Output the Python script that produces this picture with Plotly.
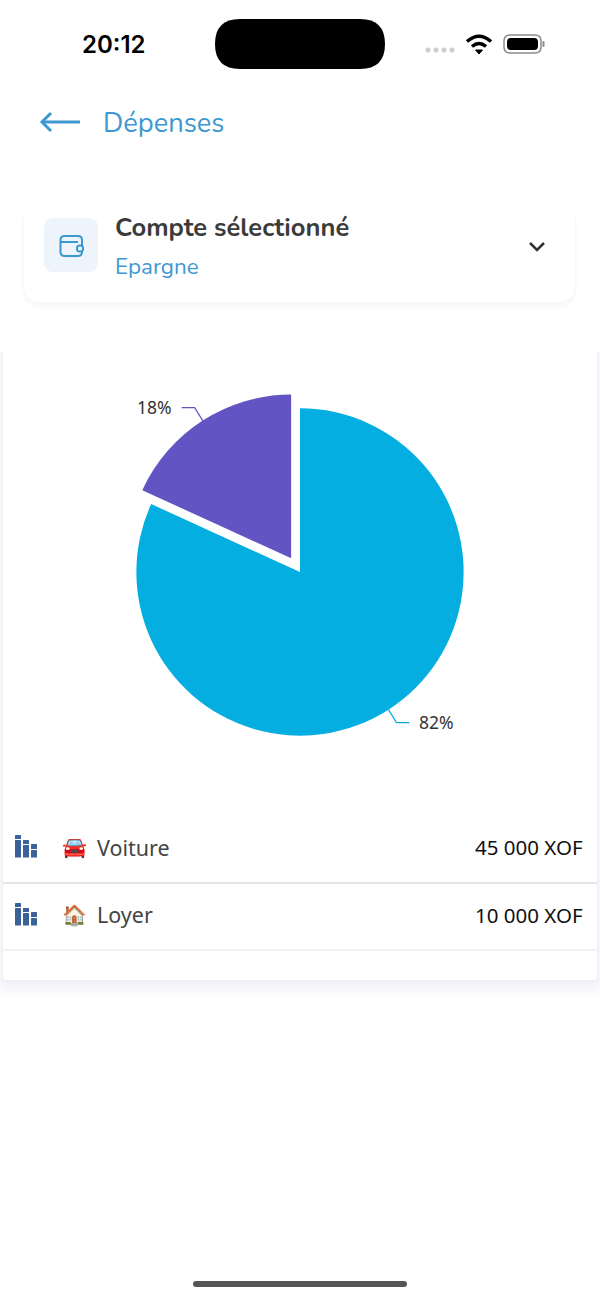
import math
import plotly.graph_objects as go

W, H = 600, 1299

# donnees
categories = ['Voiture', 'Loyer']
emojis = ['🚘', '🏠']
amounts = [45000, 10000]
colors = ['#05aee1', '#6354c4']
pull = [0, 0.1]

BLUE = '#3d98d1'
NAVY = '#3a6299'
FONT = 'Nunito, Lato, Noto Sans'

# pie geometry in screen pixels
CX, CY, R_OUT = 300, 572, 180
R = R_OUT / (1 + max(pull))


def px(x):
    return x / W


def py(y):
    return 1 - y / H


def rrect(x0, y0, x1, y1, r):
    X0, X1, Y0, Y1 = px(x0), px(x1), py(y0), py(y1)
    rx, ry = r / W, r / H
    return (f'M{X0 + rx},{Y0} L{X1 - rx},{Y0} Q{X1},{Y0} {X1},{Y0 - ry} '
            f'L{X1},{Y1 + ry} Q{X1},{Y1} {X1 - rx},{Y1} L{X0 + rx},{Y1} '
            f'Q{X0},{Y1} {X0},{Y1 + ry} L{X0},{Y0 - ry} Q{X0},{Y0} {X0 + rx},{Y0} Z')


def poly(points, close=False):
    d = 'M' + ' L'.join(f'{px(x)},{py(y)}' for x, y in points)
    return d + (' Z' if close else '')


def curve(x0, y0, xc, yc, x1, y1):
    return f'M{px(x0)},{py(y0)} Q{px(xc)},{py(yc)} {px(x1)},{py(y1)}'


shapes = []
annotations = []


def add_path(path, fill=None, line=None, width=0, layer='above', opacity=1):
    shapes.append(dict(type='path', path=path, xref='paper', yref='paper', layer=layer,
                       fillcolor=fill or 'rgba(0,0,0,0)', opacity=opacity,
                       line=dict(color=line or 'rgba(0,0,0,0)', width=width)))


def add_text(x, y, text, size, color, anchor='left', family='Noto Sans', weight=None):
    # annotations carry about 2px of padding
    shift = {'left': -2, 'right': 2, 'center': 0}[anchor]
    annotations.append(dict(x=px(x + shift), y=py(y), xref='paper', yref='paper', text=text, showarrow=False,
                            xanchor=anchor, yanchor='middle',
                            font=dict(size=size, color=color, family=family, weight=weight)))


def add_shadow(x0, y0, x1, y1, r, spread, alpha):
    # soft shadow that falls down and to the sides, nothing above the card
    for k in range(spread, 0, -2):
        add_path(rrect(x0 - k / 3, y0 + 4, x1 + k / 3, y1 + k, r + k / 3),
                 fill=f'rgba(60,60,70,{alpha})', layer='below')


# status bar
add_text(114, 44, '20:12', 24, '#000000', 'center', 'Inter', 600)
add_path(rrect(215, 19, 385, 69, 25), fill='#000000')
for dot_x in (428, 436, 444, 452):
    add_path(rrect(dot_x - 2.5, 47.5, dot_x + 2.5, 52.5, 2.5), fill='#cfcfcf')
add_path(curve(467, 41.5, 479, 31, 491, 41.5), line='#000000', width=3.5)
add_path(curve(472, 46.5, 479, 40.5, 486, 46.5), line='#000000', width=3.5)
add_path(poly([(475.5, 50), (482.5, 50), (479, 54)], True), fill='#000000', line='#000000', width=1)
add_path(rrect(504, 35, 541, 53, 6), line='#8a8a8a', width=1.5)
add_path(rrect(507, 38, 538, 50, 4), fill='#000000')
add_path(rrect(542.5, 41, 544.5, 47, 1), fill='#8a8a8a')

# header
add_path(poly([(42, 122), (80, 122)]), line=BLUE, width=3)
add_path(poly([(51, 113), (42, 122), (51, 131)]), line=BLUE, width=3)
add_text(103, 123, 'Dépenses', 27.3, BLUE, family=FONT)

# account card
add_shadow(24, 200, 575, 302, 18, 8, 0.006)
add_path(rrect(24, 200, 575, 302, 18), fill='#ffffff', layer='below')
add_path(rrect(44, 218, 98, 272, 10), fill='#edf4fb', layer='below')
add_path(rrect(60.5, 236, 82, 256, 4), line=BLUE, width=2)
add_path(poly([(61, 242), (78, 242)]), line=BLUE, width=2)
add_path(rrect(77, 245.5, 83, 251.5, 2.5), fill='#edf4fb', line=BLUE, width=2)
add_text(115, 227, 'Compte sélectionné', 25.5, '#3b3b3b', family=FONT, weight=700)
add_text(115, 266, 'Epargne', 22.4, BLUE, family=FONT)
add_path(poly([(530, 243), (537, 250), (544, 243)]), line='#303030', width=2.5)

# chart panel
add_shadow(3, 345, 597, 980, 4, 16, 0.006)
add_path(rrect(3, 345, 597, 980, 4), fill='#ffffff', layer='below')

# leader lines and percent labels, placed from the slice values
total = sum(amounts)
start = 0
for value, color, p in zip(amounts, colors, pull):
    mid = (start + value / 2) / total * 2 * math.pi
    start += value
    dx, dy = math.sin(mid), -math.cos(mid)
    ox, oy = CX + p * R * dx, CY + p * R * dy
    x0, y0 = ox + R * dx, oy + R * dy
    x1, y1 = x0 + 8 * (1 if dx > 0 else -1), y0 + 13 * (1 if dy > 0 else -1)
    x2 = x1 + 13 * (1 if dx > 0 else -1)
    add_path(poly([(x0, y0), (x1, y1), (x2, y1)]), line=color, width=1.2)
    add_text(x2 + 10 * (1 if dx > 0 else -1), y1 - 1, f'{round(value / total * 100)}%', 17.5, '#333333',
             'left' if dx > 0 else 'right')

# list rows
row_y = [847, 915]
sep_y = [883, 950]
sep_w = [2, 1]
for cat, emo, amt, y, sy, sw in zip(categories, emojis, amounts, row_y, sep_y, sep_w):
    bottom = y + 10.5
    for bx, top, gap in ((15, y - 12, y - 7), (23, y - 7, y - 2), (31, y - 3, y + 3)):
        add_path(rrect(bx, top, bx + 6, gap - 1, 0.5), fill=NAVY)
        add_path(rrect(bx, gap, bx + 6, bottom, 0.5), fill=NAVY)
    add_text(74, y, emo, 20, '#d22b2b', 'center', 'Noto Color Emoji, Noto Sans')
    add_text(97, y, cat, 21.5, '#444444')
    add_text(583, y, f'{amt:,}'.replace(',', ' ') + ' XOF', 20.5, '#111111', 'right')
    add_path(poly([(3, sy), (597, sy)]), line='#e6e6e6', width=sw, layer='below')

# home indicator
add_path(rrect(193, 1281, 407, 1287, 3), fill='#555555')

fig = go.Figure()
fig.add_trace(go.Pie(values=amounts, labels=categories, marker=dict(colors=colors, line=dict(width=0)),
                     pull=pull, sort=False, direction='clockwise', rotation=0, textinfo='none',
                     hoverinfo='label+percent', showlegend=False,
                     domain=dict(x=[px(CX - R_OUT), px(CX + R_OUT)], y=[py(CY + R_OUT), py(CY - R_OUT)])))

fig.update_layout(width=W, height=H, margin=dict(l=0, r=0, t=0, b=0), paper_bgcolor='#ffffff',
                  plot_bgcolor='#ffffff', shapes=shapes, annotations=annotations, showlegend=False)

fig.write_html('out.html', config=dict(displayModeBar=False),
               post_script="document.body.style.margin='0';document.body.style.overflow='hidden';")
